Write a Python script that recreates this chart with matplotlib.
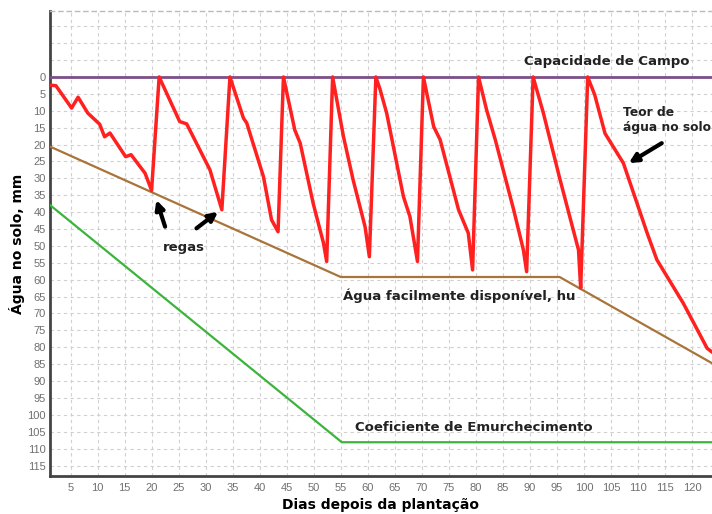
import numpy as np
import matplotlib
matplotlib.use("Agg")
import matplotlib.pyplot as plt

# ===============================
# Data
# ===============================
# soil water content (mm below field capacity)
red_days = [1.2, 2.3, 5.2, 6.4, 8.2, 10.4, 11.3, 12.3, 15.2, 16.2, 18.8, 20.0, 21.4,
            25.2, 26.5, 30.8, 33.0, 34.5,
            37.0, 37.6, 40.7, 42.2, 43.4, 44.4,
            46.5, 47.5, 49.9, 51.8, 52.4, 53.5,
            55.5, 57.3, 59.5, 60.3, 61.5,
            62.3, 63.5, 66.6, 67.8, 69.2, 70.3,
            72.2, 73.4, 76.8, 78.6, 79.4, 80.5,
            82.0, 83.6, 87.0, 88.8, 89.4, 90.6,
            92.5, 95.6, 99.0, 99.4, 100.7,
            102.0, 103.9, 107.3, 111.7, 113.5, 118.4, 122.8, 123.7]
red_vals = [2.4, 2.6, 9.2, 6.0, 10.7, 14.0, 17.7, 16.6, 23.6, 23.0, 28.5, 33.6, 0,
            13.2, 13.9, 27.5, 39.3, 0,
            12.2, 13.6, 29.5, 42.3, 45.8, 0,
            15.7, 19.6, 37.4, 49.1, 54.6, 0,
            17.6, 30.5, 44.3, 53.2, 0,
            3.8, 10.7, 35.4, 41.3, 54.6, 0,
            14.7, 18.6, 39.3, 46.2, 57.1, 0,
            9.8, 18.6, 39.3, 51.2, 57.6, 0,
            10.7, 30.5, 51.2, 62.5, 0,
            5.3, 16.7, 25.5, 46.2, 54.1, 67.0, 80.3, 81.4]

# readily available water, hu
hu_days = [1.2, 55.0, 95.5, 123.7]
hu_vals = [20.6, 59.2, 59.2, 84.7]

# wilting point
wp_days = [1.2, 55.2, 123.7]
wp_vals = [37.9, 108.1, 108.1]

# field capacity
cc_days = [1.2, 123.7]
cc_vals = [0, 0]

x_ticks = list(range(5, 121, 5))
y_ticks = list(range(-15, 116, 5))

# ===============================
# Figure
# ===============================
fig = plt.figure(figsize=(7.12, 5.14), dpi=100)
ax = fig.add_axes([0.0702, 0.0745, 0.9298, 0.904])

ax.plot(cc_days, cc_vals, color="#7b4f8a", lw=2.0, zorder=3)
ax.plot(wp_days, wp_vals, color="#3cb43c", lw=1.6, zorder=3)
ax.plot(hu_days, hu_vals, color="#a8743a", lw=1.6, zorder=3)
ax.plot(red_days, red_vals, color="#ff2020", lw=2.5, zorder=4)

ax.set_xlim(1.2, 123.7)
ax.set_ylim(118, -19.5)

ax.set_xticks(x_ticks)
ax.set_yticks(y_ticks)
ax.set_yticklabels(["" if v < 0 else str(v) for v in y_ticks])
ax.tick_params(length=0, labelsize=8, labelcolor="#707070")
ax.tick_params(axis="y", pad=3)
ax.tick_params(axis="x", pad=5)
for lbl in ax.get_xticklabels() + ax.get_yticklabels():
    lbl.set_family("Liberation Sans")

ax.grid(True, color="#d0d0d0", lw=0.8, ls=(0, (3, 3)))
ax.set_axisbelow(True)

for s in ["left", "bottom"]:
    ax.spines[s].set_color("#444444")
    ax.spines[s].set_linewidth(2.0)
ax.spines["right"].set_visible(False)
ax.spines["top"].set_color("#bbbbbb")
ax.spines["top"].set_linestyle((0, (3, 3)))
ax.spines["top"].set_linewidth(1.0)

ax.set_xlabel("Dias depois da plantação", fontsize=10, fontweight="bold", labelpad=4)
ax.set_ylabel("Água no solo, mm", fontsize=10, fontweight="bold", labelpad=2)

# ===============================
# Annotations
# ===============================
tk = dict(fontsize=9.5, fontweight="bold", color="#222222")
ax.text(104.2, -4.5, "Capacidade de Campo", ha="center", va="center", **tk)
ax.text(107.2, 12.7, "Teor de\nágua no solo", ha="left", va="center", linespacing=1.25,
        fontsize=8.8, fontweight="bold", color="#222222")
ax.text(26.0, 50.6, "regas", ha="center", va="center", **tk)
ax.text(55.4, 64.8, "Água facilmente disponível, hu", ha="left", va="center", **tk)
ax.text(57.6, 103.6, "Coeficiente de Emurchecimento", ha="left", va="center", **tk)

arw = dict(arrowstyle="-|>", color="black", lw=3.0, mutation_scale=13, shrinkA=0, shrinkB=0)
ax.annotate("", xy=(108.3, 25.5), xytext=(114.4, 19.6), arrowprops=arw)
ax.annotate("", xy=(20.9, 36.4), xytext=(22.5, 44.3), arrowprops=arw)
ax.annotate("", xy=(32.3, 39.9), xytext=(28.3, 44.8), arrowprops=arw)

fig.savefig("out.png", dpi=100)
